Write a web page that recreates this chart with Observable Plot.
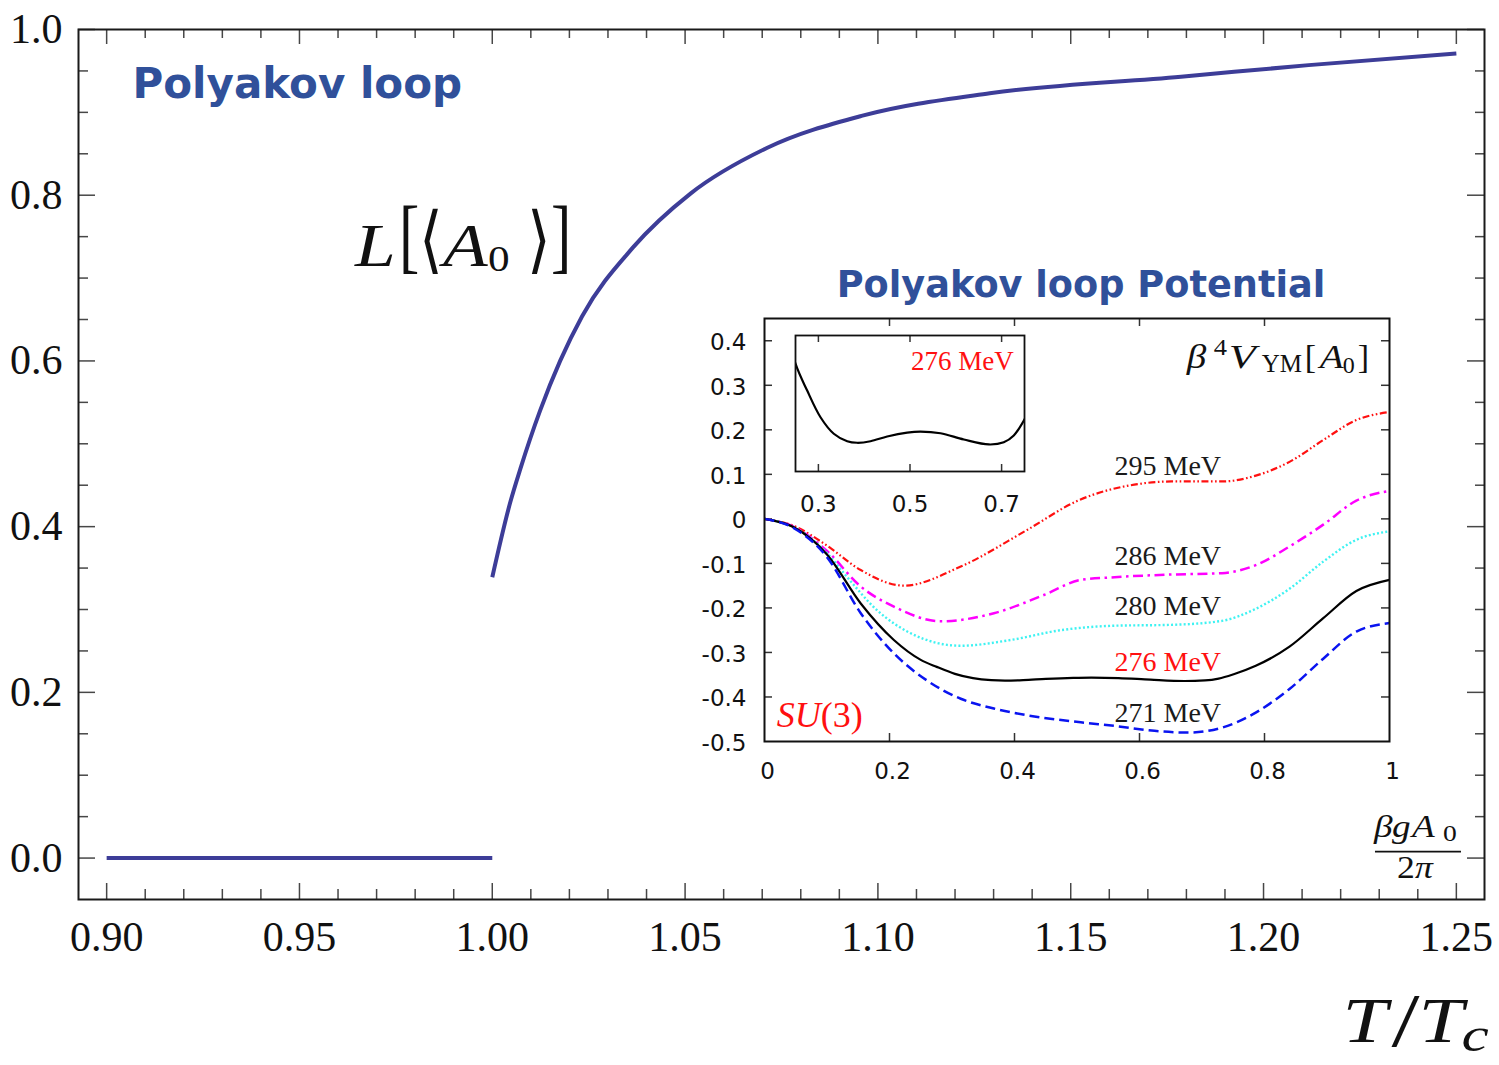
<!DOCTYPE html>
<html>
<head>
<meta charset="utf-8">
<script src="https://cdn.jsdelivr.net/npm/d3@7"></script>
<script src="https://cdn.jsdelivr.net/npm/@observablehq/plot@0.6"></script>
<style>
  html, body { margin: 0; padding: 0; background: #fff; overflow: hidden; }
  #chart { position: relative; width: 1499px; height: 1065px; background: #fff; }
  #chart svg { position: absolute; overflow: visible; }
</style>
</head>
<body>
<div id="chart"></div>
<script>
// ---------- Polyakov loop L[<A0>] versus T/Tc ----------
const confinedT = [0.90, 1.00];
const confinedL = [0.0, 0.0];
const deconfinedT = [1.000, 1.0047, 1.0073, 1.0124, 1.0176, 1.0233, 1.0365, 1.0514, 1.0712, 1.096, 1.129, 1.1786, 1.2117, 1.25];
const deconfinedL = [0.339, 0.430, 0.470, 0.540, 0.600, 0.654, 0.737, 0.802, 0.857, 0.896, 0.923, 0.943, 0.957, 0.971];

const mainXTickLabels = [0.90, 0.95, 1.00, 1.05, 1.10, 1.15, 1.20, 1.25];
const mainYTickLabels = [0.0, 0.2, 0.4, 0.6, 0.8, 1.0];

// ---------- Polyakov loop potential beta^4 V_YM[A0] versus beta g A0 / 2pi ----------
const potentialLabels = ["295 MeV", "286 MeV", "280 MeV", "276 MeV", "271 MeV"];

const a0_295 = [0, 0.047, 0.10, 0.154, 0.223, 0.314, 0.42, 0.50, 0.597, 0.651, 0.732, 0.786, 0.84, 0.894, 0.947, 1.0];
const v_295  = [0, -0.016, -0.060, -0.115, -0.150, -0.107, -0.025, 0.040, 0.078, 0.084, 0.084, 0.097, 0.128, 0.177, 0.222, 0.240];

const a0_286 = [0, 0.047, 0.10, 0.154, 0.207, 0.282, 0.367, 0.447, 0.506, 0.56, 0.651, 0.732, 0.786, 0.84, 0.894, 0.947, 1.0];
const v_286  = [0, -0.018, -0.072, -0.152, -0.197, -0.230, -0.212, -0.171, -0.137, -0.131, -0.125, -0.122, -0.104, -0.062, -0.013, 0.041, 0.063];

const a0_280 = [0, 0.047, 0.10, 0.127, 0.18, 0.234, 0.314, 0.394, 0.474, 0.56, 0.651, 0.732, 0.786, 0.84, 0.894, 0.947, 1.0];
const v_280  = [0, -0.019, -0.077, -0.122, -0.205, -0.257, -0.285, -0.272, -0.250, -0.240, -0.238, -0.229, -0.202, -0.157, -0.096, -0.047, -0.028];

const a0_276 = [0, 0.047, 0.10, 0.154, 0.207, 0.25, 0.2755, 0.3046, 0.3336, 0.3629, 0.3847, 0.4138, 0.4502, 0.4939, 0.5229, 0.5666, 0.6175, 0.6721, 0.7048, 0.7266, 0.7507, 0.786, 0.84, 0.894, 0.947, 1.0];
const v_276  = [0, -0.019, -0.080, -0.190, -0.272, -0.3166, -0.3324, -0.3481, -0.3578, -0.3622, -0.3631, -0.3622, -0.3594, -0.3571, -0.3565, -0.3575, -0.3612, -0.3641, -0.3628, -0.3588, -0.3490, -0.330, -0.287, -0.223, -0.162, -0.137];

const a0_271 = [0, 0.047, 0.10, 0.154, 0.207, 0.26, 0.314, 0.367, 0.42, 0.506, 0.56, 0.624, 0.678, 0.732, 0.786, 0.84, 0.894, 0.947, 1.0];
const v_271  = [0, -0.021, -0.086, -0.212, -0.302, -0.363, -0.404, -0.426, -0.441, -0.457, -0.465, -0.476, -0.480, -0.469, -0.435, -0.382, -0.314, -0.253, -0.234];

const insetXTickLabels = [0, 0.2, 0.4, 0.6, 0.8, 1];
const insetYTickLabels = [0.4, 0.3, 0.2, 0.1, 0, -0.1, -0.2, -0.3, -0.4, -0.5];
const zoomXTickLabels = [0.3, 0.5, 0.7];

// ---------- tables built from the arrays ----------
const rows = (xs, ys, kx, ky) => xs.map((x, i) => ({[kx]: x, [ky]: ys[i]}));
const confined = rows(confinedT, confinedL, "T", "L");
const deconfined = rows(deconfinedT, deconfinedL, "T", "L");
const curves = {
  "295 MeV": rows(a0_295, v_295, "a", "v"),
  "286 MeV": rows(a0_286, v_286, "a", "v"),
  "280 MeV": rows(a0_280, v_280, "a", "v"),
  "276 MeV": rows(a0_276, v_276, "a", "v"),
  "271 MeV": rows(a0_271, v_271, "a", "v")
};

const serif = "'Liberation Serif', 'Times New Roman', serif";
const mathFont = "'Liberation Serif', 'DejaVu Serif', 'DejaVu Sans', serif";
const sans = "'DejaVu Sans', 'Liberation Sans', sans-serif";
const loopBlue = "#3d3d98";
const titleBlue = "#30509a";
const tickGray = "#474747";

const chart = document.getElementById("chart");

// Draws a TeX-like label glyph by glyph, each glyph at its own offset and scale.
function texLabel(svg, x0, y0, glyphs, base) {
  const root = d3.select(svg).append("g")
    .attr("fill", base.fill || "#111")
    .attr("text-anchor", "start");
  for (const g of glyphs) {
    const kx = g.sx || base.sx || 1;
    const ky = g.sy || 1;
    root.append("text")
      .attr("transform", `translate(${x0 + (g.dx || 0)},${y0 + (g.dy || 0)}) scale(${kx},${ky})`)
      .attr("font-family", mathFont)
      .attr("font-size", g.size || base.size)
      .attr("font-style", g.italic ? "italic" : "normal")
      .text(g.t);
  }
  return root;
}

// ---------- main panel ----------
const mW = 1499, mH = 1065, mL = 78, mR = 15, mT = 29, mB = 166;
const innerW = mW - mL - mR, innerH = mH - mT - mB;
const xMinor = d3.range(91, 125).map(i => i / 100).filter(v => Math.round(v * 100) % 5 !== 0);
const yMinor = d3.range(1, 20).map(i => i / 20).filter(v => Math.round(v * 20) % 4 !== 0);

const mainPlot = Plot.plot({
  width: mW, height: mH,
  marginLeft: mL, marginRight: mR, marginTop: mT, marginBottom: mB,
  x: {domain: [0.8927, 1.2573]},
  y: {domain: [-0.05, 1.0]},
  style: {fontFamily: serif, background: "white", color: "#111", overflow: "visible"},
  marks: [
    // ticks drawn inward on all four sides
    Plot.tickX(mainXTickLabels, {x: d => d, insetTop: innerH - 16, stroke: tickGray, strokeWidth: 1.5}),
    Plot.tickX(xMinor, {x: d => d, insetTop: innerH - 10, stroke: tickGray, strokeWidth: 1.5}),
    Plot.tickX(mainXTickLabels, {x: d => d, insetBottom: innerH - 15, stroke: tickGray, strokeWidth: 1.5}),
    Plot.tickX(xMinor, {x: d => d, insetBottom: innerH - 9, stroke: tickGray, strokeWidth: 1.5}),
    Plot.tickY(mainYTickLabels, {y: d => d, insetRight: innerW - 17, stroke: tickGray, strokeWidth: 1.5}),
    Plot.tickY(yMinor, {y: d => d, insetRight: innerW - 10, stroke: tickGray, strokeWidth: 1.5}),
    Plot.tickY(mainYTickLabels, {y: d => d, insetLeft: innerW - 17, stroke: tickGray, strokeWidth: 1.5}),
    Plot.tickY(yMinor, {y: d => d, insetLeft: innerW - 9, stroke: tickGray, strokeWidth: 1.5}),
    Plot.frame({stroke: "#1a1a1a", strokeWidth: 2}),
    Plot.axisX(mainXTickLabels, {tickSize: 0, tickPadding: 22, tickFormat: d3.format(".2f"), fontSize: 42, label: null}),
    Plot.axisY(mainYTickLabels, {tickSize: 0, tickPadding: 16, tickFormat: d3.format(".1f"), fontSize: 42, label: null}),
    Plot.line(confined, {x: "T", y: "L", stroke: loopBlue, strokeWidth: 4, strokeLinecap: "butt"}),
    Plot.line(deconfined, {x: "T", y: "L", stroke: loopBlue, strokeWidth: 4, strokeLinecap: "butt", curve: "monotone-x"}),
    Plot.text(["Polyakov loop"], {x: 0.9067, y: 0.9338, text: d => d, textAnchor: "start", fontFamily: sans, fontWeight: "bold", fontSize: 42, fill: titleBlue}),
    Plot.text(["Polyakov loop Potential"], {x: 1.0893, y: 0.6911, text: d => d, textAnchor: "start", fontFamily: sans, fontWeight: "bold", fontSize: 36.7, fill: titleBlue})
  ]
});
mainPlot.style.left = "0px";
mainPlot.style.top = "0px";
chart.appendChild(mainPlot);

{
  const sx = mainPlot.scale("x").apply, sy = mainPlot.scale("y").apply;
  // L[<A0>]
  texLabel(mainPlot, sx(0.96453), sy(0.71397), [
    {t: "L", dx: 0, italic: true},
    {t: "[", dx: 44, dy: -3, sy: 1.35, sx: 1},
    {t: "\u27E8", dx: 64, dy: -2, sy: 1.2, sx: 1},
    {t: "A", dx: 88, italic: true},
    {t: "0", dx: 133, dy: 5, size: 36},
    {t: "\u27E9", dx: 172, dy: -2, sy: 1.2, sx: 1},
    {t: "]", dx: 196, dy: -3, sy: 1.35, sx: 1}
  ], {size: 61, sx: 1.2});
  // T/Tc
  texLabel(mainPlot, sx(1.22063), sy(-0.2228), [
    {t: "T", dx: 0, italic: true},
    {t: "/", dx: 49, dy: 4, sx: 1.6, sy: 1.2},
    {t: "T", dx: 76, italic: true},
    {t: "c", dx: 119, dy: 9, size: 48, italic: true}
  ], {size: 63, sx: 1.28});
  // beta g A0 / 2 pi
  const fx = sx(1.22877), fy = sy(0.02519);
  texLabel(mainPlot, fx, fy, [
    {t: "\u03B2", dx: 0, italic: true},
    {t: "g", dx: 18, italic: true},
    {t: "A", dx: 38, italic: true},
    {t: "0", dx: 69, dy: 4, size: 23}
  ], {size: 31, sx: 1.2});
  d3.select(mainPlot).append("line")
    .attr("x1", fx + 1).attr("x2", fx + 87)
    .attr("y1", sy(0.00709)).attr("y2", sy(0.00709))
    .attr("stroke", "#111").attr("stroke-width", 1.8);
  texLabel(mainPlot, fx + 23, sy(-0.02501), [
    {t: "2", dx: 0},
    {t: "\u03C0", dx: 18, italic: true}
  ], {size: 31, sx: 1.15});
}

// ---------- inset: potential curves ----------
const iW = 720, iH = 550, iL = 84, iR = 11, iT = 68, iB = 59;
const iInnerW = iW - iL - iR, iInnerH = iH - iT - iB;
const insetInnerX = [0.2, 0.4, 0.6, 0.8];
const insetInnerY = [0.4, 0.3, 0.2, 0.1, 0, -0.1, -0.2, -0.3, -0.4];
const curveStyle = {
  "295 MeV": {stroke: "#ff1010", strokeWidth: 2.2, strokeDasharray: "7,2.5,1.6,2.5,1.6,2.5"},
  "286 MeV": {stroke: "#ff00ff", strokeWidth: 2.5, strokeDasharray: "10,4.5,2.5,4.5"},
  "280 MeV": {stroke: "#3ef2f2", strokeWidth: 2.4, strokeDasharray: "2,2.2"},
  "276 MeV": {stroke: "#000000", strokeWidth: 2.2},
  "271 MeV": {stroke: "#0a14f0", strokeWidth: 2.5, strokeDasharray: "10,5"}
};
// vertical anchor (in potential units) of each curve's label
const labelLevel = {"295 MeV": 0.1187, "286 MeV": -0.0832, "280 MeV": -0.1964, "276 MeV": -0.3226, "271 MeV": -0.4371};

const inset = Plot.plot({
  width: iW, height: iH,
  marginLeft: iL, marginRight: iR, marginTop: iT, marginBottom: iB,
  x: {domain: [0, 1]},
  y: {domain: [-0.5, 0.45]},
  style: {background: "transparent", color: "#111", overflow: "visible"},
  marks: [
    Plot.frame({fill: "white"}),
    Plot.tickY(insetInnerY, {y: d => d, insetRight: iInnerW - 8, stroke: "#333", strokeWidth: 1.5}),
    Plot.tickY(insetInnerY, {y: d => d, insetLeft: iInnerW - 8, stroke: "#333", strokeWidth: 1.5}),
    Plot.tickX(insetInnerX, {x: d => d, insetTop: iInnerH - 8, stroke: "#333", strokeWidth: 1.5}),
    Plot.tickX(insetInnerX, {x: d => d, insetBottom: iInnerH - 8, stroke: "#333", strokeWidth: 1.5}),
    Plot.axisX(insetXTickLabels, {tickSize: 0, tickPadding: 21, dx: 3, fontSize: 23, fontFamily: sans, tickFormat: d => String(d), label: null}),
    Plot.axisY(insetYTickLabels, {tickSize: 0, tickPadding: 18, dy: 2, fontSize: 23, fontFamily: sans, tickFormat: d => String(d), label: null}),
    ...potentialLabels.map(name =>
      Plot.line(curves[name], {x: "a", y: "v", curve: "monotone-x", strokeLinecap: "butt", ...curveStyle[name]})),
    Plot.frame({stroke: "#111", strokeWidth: 2}),
    Plot.text(potentialLabels, {
      x: 0.56, y: d => labelLevel[d], text: d => d, textAnchor: "start",
      fontFamily: serif, fontSize: 28, fill: d => d === "276 MeV" ? "#ff1010" : "#1a1a1a"
    })
  ]
});
inset.style.left = "680px";
inset.style.top = "250px";
chart.appendChild(inset);

{
  const sx = inset.scale("x").apply, sy = inset.scale("y").apply;
  // beta^4 V_YM[A0]
  texLabel(inset, sx(0.6763), sy(0.3377), [
    {t: "\u03B2", dx: 0, italic: true},
    {t: "4", dx: 27, dy: -13, size: 23},
    {t: "V", dx: 42, italic: true, sx: 1.3},
    {t: "YM", dx: 75, dy: 4, size: 25, sx: 1},
    {t: "[", dx: 118, sx: 1},
    {t: "A", dx: 133, italic: true},
    {t: "0", dx: 156, dy: 5, size: 24, sx: 1},
    {t: "]", dx: 171, sx: 1}
  ], {size: 34, sx: 1.15});
  // SU(3)
  const su = d3.select(inset).append("text")
    .attr("x", sx(0.0203)).attr("y", sy(-0.4679))
    .attr("text-anchor", "start")
    .attr("font-family", mathFont).attr("font-size", 36).attr("fill", "#ff1010");
  su.append("tspan").attr("font-style", "italic").text("SU");
  su.append("tspan").text("(3)");
}

// ---------- zoom on the 276 MeV curve near its two minima ----------
const zW = 260, zH = 200, zL = 15, zR = 16, zT = 5, zB = 59;
const zInnerH = zH - zT - zB;
const zoom = Plot.plot({
  width: zW, height: zH,
  marginLeft: zL, marginRight: zR, marginTop: zT, marginBottom: zB,
  x: {domain: [0.25, 0.75]},
  y: {domain: [-0.38, -0.30], axis: null},
  style: {background: "transparent", color: "#111", overflow: "visible"},
  marks: [
    Plot.frame({fill: "white"}),
    Plot.tickX(zoomXTickLabels, {x: d => d, insetTop: zInnerH - 7, stroke: "#333", strokeWidth: 1.5}),
    Plot.tickX(zoomXTickLabels, {x: d => d, insetBottom: zInnerH - 7, stroke: "#333", strokeWidth: 1.5}),
    Plot.axisX(zoomXTickLabels, {tickSize: 0, tickPadding: 24, fontSize: 23, fontFamily: sans, tickFormat: d => String(d), label: null}),
    Plot.line(curves["276 MeV"], {x: "a", y: "v", curve: "catmull-rom", clip: true, stroke: "#000", strokeWidth: 2.2}),
    Plot.frame({stroke: "#111", strokeWidth: 1.8}),
    Plot.text(["276 MeV"], {x: 0.7266, y: -0.3155, text: d => d, textAnchor: "end", fontFamily: serif, fontSize: 27, fill: "#ff1010"})
  ]
});
zoom.style.left = "780px";
zoom.style.top = "330px";
chart.appendChild(zoom);
</script>
</body>
</html>
